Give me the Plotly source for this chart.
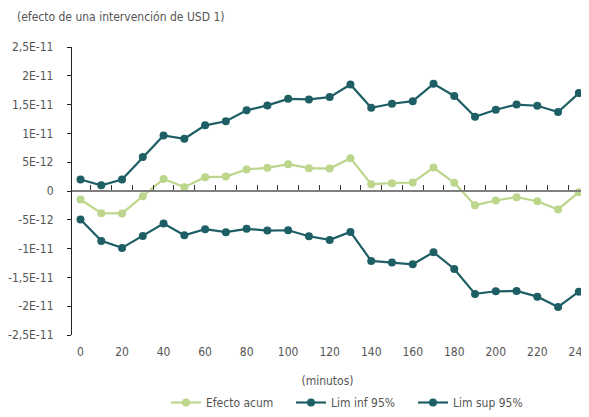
import plotly.graph_objects as go

minutes = list(range(0, 250, 10))
efecto = [-1.48, -3.85, -3.9, -0.9, 2.1, 0.67, 2.4, 2.5, 3.74, 4.03, 4.66, 3.97,
          3.9, 5.7, 1.19, 1.36, 1.48, 4.08, 1.42, -2.46, -1.65, -1.07, -1.77, -3.2, -0.2]
lim_inf = [-4.95, -8.66, -9.88, -7.8, -5.65, -7.68, -6.63, -7.15, -6.57, -6.87, -6.81, -7.85,
           -8.49, -7.1, -12.14, -12.43, -12.72, -10.63, -13.53, -17.87, -17.41, -17.35, -18.34, -20.13, -17.47]
lim_sup = [2.0, 1.0, 2.0, 5.9, 9.65, 9.07, 11.4, 12.1, 14.0, 14.86, 16.0, 15.9,
           16.3, 18.5, 14.46, 15.15, 15.6, 18.6, 16.5, 12.9, 14.1, 15.0, 14.8, 13.7, 17.0]
scale = 1e-12
efecto = [v * scale for v in efecto]
lim_inf = [v * scale for v in lim_inf]
lim_sup = [v * scale for v in lim_sup]

y_tickvals = [2.5e-11, 2e-11, 1.5e-11, 1e-11, 5e-12, 0, -5e-12, -1e-11, -1.5e-11, -2e-11, -2.5e-11]
y_ticktext = ["2,5E-11", "2E-11", "1,5E-11", "1E-11", "5E-12", "0", "-5E-12", "-1E-11",
              "-1,5E-11", "-2E-11", "-2,5E-11"]
x_tickvals = list(range(0, 250, 20))
minor_ticks = list(range(5, 245, 10))

GREEN = "#bcd68c"
TEAL = "#1e5f66"
FONT = "DejaVu Sans Condensed, DejaVu Sans, sans-serif"
GREY = "#555555"
FS = 12

W, H = 581, 409
legend_x = [158, 283, 405]

fig = go.Figure()
for name, vals, col, lid in [("Efecto acum", efecto, GREEN, "legend"),
                             ("Lim inf 95%", lim_inf, TEAL, "legend2"),
                             ("Lim sup 95%", lim_sup, TEAL, "legend3")]:
    fig.add_trace(go.Scatter(x=minutes, y=vals, name=name, mode="lines+markers", cliponaxis=False,
                             legend=lid,
                             line=dict(color=col, width=2.2), marker=dict(color=col, size=8)))
# helper trace to render the zero-crossing axis
fig.add_trace(go.Scatter(x=[0], y=[0], xaxis="x2", mode="markers", marker=dict(opacity=0),
                         showlegend=False, hoverinfo="skip"))

legend_common = dict(orientation="h", xanchor="left", xref="container",
                     y=-0.025, yanchor="bottom", yref="container",
                     font=dict(size=FS, color=GREY), itemwidth=30)
fig.update_layout(
    width=W, height=H,
    margin=dict(l=64, r=0, t=39, b=82),
    paper_bgcolor="white", plot_bgcolor="white",
    font=dict(family=FONT, color=GREY, size=FS),
    showlegend=True,
    legend=dict(x=legend_x[0] / W, **legend_common),
    legend2=dict(x=legend_x[1] / W, **legend_common),
    legend3=dict(x=legend_x[2] / W, **legend_common),
    xaxis=dict(range=[-4.1, 242], tickvals=x_tickvals, showgrid=False, zeroline=False,
               showline=False, ticks="", ticklabelstandoff=8, ticklabeloverflow="allow",
               tickfont=dict(size=FS, color=GREY),
               title=dict(text="(minutos)", font=dict(size=FS, color=GREY), standoff=18)),
    xaxis2=dict(overlaying="x", matches="x", anchor="free", position=0.5, side="bottom",
                showline=True, linecolor="#7f7f7f", linewidth=1.5,
                ticks="inside", ticklen=5, tickwidth=1, tickcolor="#333333",
                tickvals=minor_ticks, showticklabels=False, showgrid=False, zeroline=False),
    yaxis=dict(range=[-2.5e-11, 2.5e-11], tickvals=y_tickvals, ticktext=y_ticktext,
               showgrid=False, zeroline=False, showline=True, linecolor="#222222", linewidth=1.2,
               ticks="outside", ticklen=4, tickcolor="#222222", ticklabelstandoff=11,
               tickfont=dict(size=FS, color=GREY)),
)
fig.add_annotation(text="(efecto de una intervención de USD 1)", xref="paper", yref="paper",
                   x=(6 - 64) / 517, y=1 + 30 / 288, xanchor="left", yanchor="middle", showarrow=False,
                   font=dict(size=FS, color=GREY))

fig.write_html("out.html")
